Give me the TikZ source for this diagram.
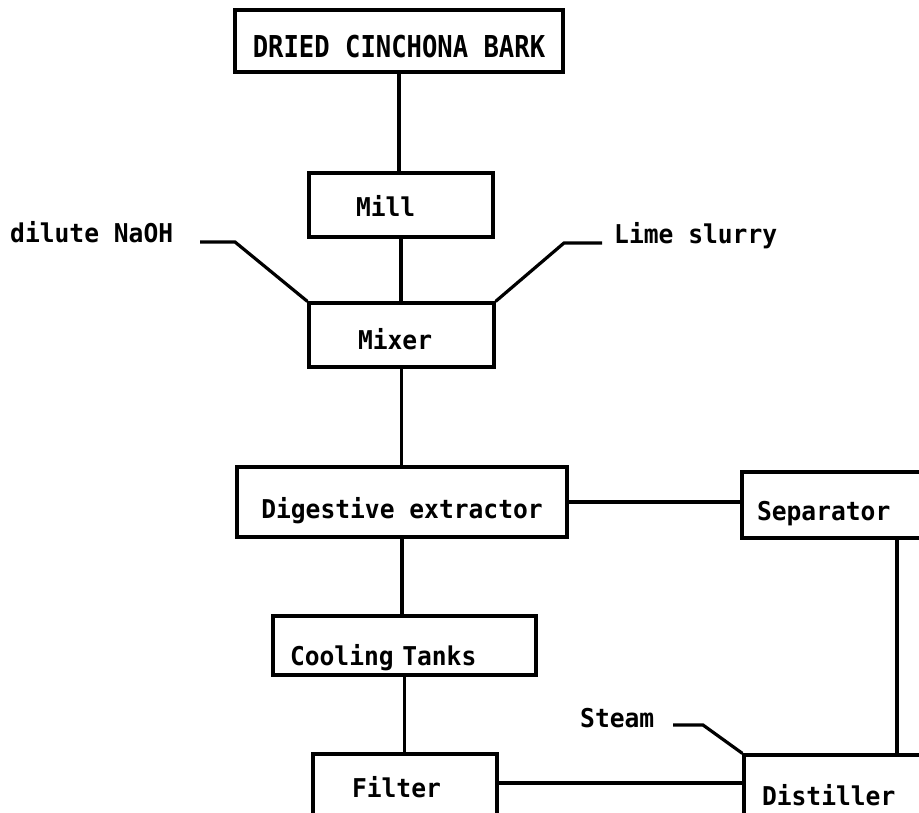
\documentclass[tikz,border=0pt]{standalone}
\usepackage{fontspec}
\newfontfamily\typer[FakeStretch=0.95]{DejaVu Sans Mono}
\usetikzlibrary{positioning,calc}

\newcommand{\plant}{\typer\bfseries\fontsize{25.9pt}{30pt}\selectfont}

\begin{document}
\begin{tikzpicture}[x=1pt, y=-1pt,
  unit/.style={draw, line width=3.2pt, inner sep=0pt, text depth=6pt, font=\plant},
  feed/.style={inner sep=0pt, font=\plant},
  pipe/.style={line width=3.2pt}]
  \useasboundingbox (0,0) rectangle (919,813);

  % process units
  \node[unit, minimum width=328pt, minimum height=62pt, text height=40pt,
        font=\typer\bfseries\fontsize{26.9pt}{30pt}\selectfont]
    (bark) at (399,41) {\scalebox{1}[1.12]{DRIED CINCHONA BARK}};
  \node[unit, minimum height=64pt, text height=30pt, inner xsep=47pt,
        text width=90pt, align=left]
    (mill) at (401,205) {Mill};
  \node[unit, minimum height=64pt, text height=34pt, inner xsep=49pt,
        text width=87pt, align=left]
    (mixer) at (401.5,335) {Mixer};
  \node[unit, minimum width=330pt, minimum height=70pt, text height=38pt]
    (digest) at (402,502) {Digestive extractor};
  \node[unit, minimum height=66pt, text height=36pt, inner xsep=15pt,
        text width=153pt, align=left]
    (sep) at (833.5,505) {Separator};
  \node[unit, minimum height=59pt, text height=45pt, inner xsep=17pt,
        text width=229pt, align=left]
    (cool) at (404.5,645.5) {Cooling Tanks};
  \node[unit, minimum height=86pt, text height=6pt, inner xsep=39pt,
        text width=106pt, align=left]
    (filter) at (405,797) {Filter};
  \node[unit, minimum height=95pt, text height=11pt, inner xsep=18pt,
        text width=145pt, align=left]
    (dist) at (834.5,802.5) {Distiller};

  % feeds
  \node[feed, anchor=base west] (naoh) at (10,243) {dilute NaOH};
  \node[feed, anchor=base west] (lime) at (614,244) {Lime slurry};
  \node[feed, anchor=base west] (steam) at (580,727) {Steam};
  \coordinate (naohend) at (200,242);
  \coordinate (limeend) at (602,243);
  \coordinate (steamend) at (673,725);

  % main line
  \draw[pipe] (bark.south) -- (bark.south |- mill.north);
  \draw[pipe] (mill.south) -- (mill.south |- mixer.north);
  \draw[pipe] (mixer.south) -- (mixer.south |- digest.north);
  \draw[pipe] (digest.south) -- (digest.south |- cool.north);
  \draw[pipe] (cool.south) -- (cool.south |- filter.north);
  \draw[pipe] (digest.east) -- (digest.east -| sep.west);
  \draw[pipe] ([yshift=14pt]filter.east) -- ([yshift=14pt]filter.east -| dist.west);
  \draw[pipe] ([xshift=63.5pt]sep.south) -- ([xshift=63.5pt]sep.south |- dist.north);

  % additions
  \draw[pipe] (naohend) -- (235,242) -- (mixer.north west);
  \draw[pipe] (limeend) -- (564,243) -- (mixer.north east);
  \draw[pipe] (steamend) -- (703,725) -- (dist.north west);
\end{tikzpicture}
\end{document}
